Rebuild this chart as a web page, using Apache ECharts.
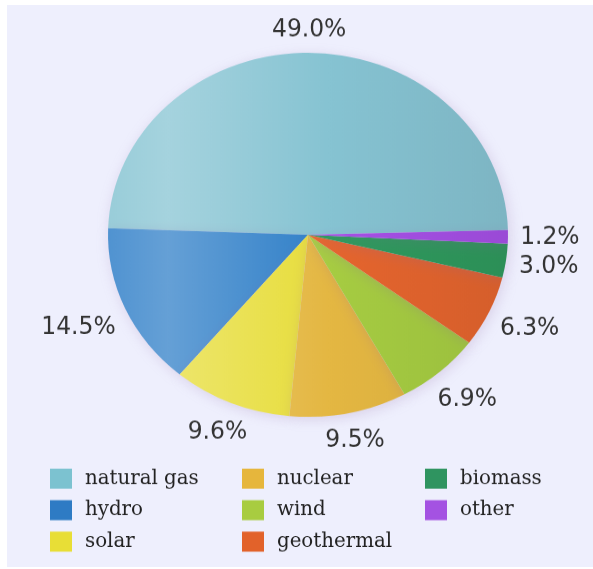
<!DOCTYPE html>
<html><head><meta charset="utf-8">
<script src="https://cdn.jsdelivr.net/npm/echarts@6/dist/echarts.min.js"></script>
<style>
html,body{margin:0;padding:0;background:#fff;width:593px;height:569px;overflow:hidden}
#bg{position:absolute;left:7px;top:5px;width:586px;height:562px;background:#eeeffd}
#c{position:absolute;left:0;top:0;width:593px;height:625px;transform:scaleY(0.91);transform-origin:0 0}
</style></head><body><div id="bg"></div><div id="c"></div>
<script>
const categories = ['natural gas','hydro','solar','nuclear','wind','geothermal','biomass','other'];
const shares = [49.0, 14.5, 9.6, 9.5, 6.9, 6.3, 3.0, 1.2];
const baseColors = ['#86c3d2','#2f7fc8','#e7dd3a','#e4b742','#a6cc42','#e5652e','#2f9a5e','#a650e6'];
const legendColors = ['#7cc2d0','#2e7bc4','#e8de36','#e6b63c','#a8cc40','#e2622a','#2f9460','#a452e2'];
const legendColumns = [['natural gas','hydro','solar'],['nuclear','wind','geothermal'],['biomass','other']];
const legendLefts = [50, 242, 425];

const CX = 308, CY = 258, R = 200, START = 1.5, GAP = 12;

function mix(hex, target, t) {
  const n = parseInt(hex.slice(1), 16);
  const r = (n >> 16) & 255, g = (n >> 8) & 255, b = n & 255;
  const m = v => Math.round(v + (target - v) * t);
  return 'rgb(' + m(r) + ',' + m(g) + ',' + m(b) + ')';
}
function shade(hex) {
  return {
    type: 'linear', x: CX - R, y: 0, x2: CX + R, y2: 0, global: true,
    colorStops: [
      {offset: 0, color: mix(hex, 255, 0.16)},
      {offset: 0.15, color: mix(hex, 255, 0.26)},
      {offset: 0.55, color: hex},
      {offset: 1, color: mix(hex, 0, 0.07)}
    ]
  };
}

const total = shares.reduce((a, b) => a + b, 0);
const cum = [];
shares.reduce((acc, v, i) => { cum[i] = acc; return acc + v; }, 0);

const chart = echarts.init(document.getElementById('c'), null, {renderer: 'canvas', width: 593, height: 625});

const legendCfg = legendColumns.map((col, k) => ({
  orient: 'vertical',
  left: legendLefts[k],
  top: 515,
  padding: 0,
  itemWidth: 22,
  itemHeight: 22,
  itemGap: 12.6,
  icon: 'rect',
  selectedMode: false,
  textStyle: {fontFamily: '"DejaVu Serif Condensed", "DejaVu Serif", serif', fontSize: 22, color: '#222', padding: [3, 0, 0, 8]},
  data: col.map(name => ({name: name, itemStyle: {color: legendColors[categories.indexOf(name)]}}))
}));

chart.setOption({
  animation: false,
  legend: legendCfg,
  series: [{
    type: 'pie',
    center: [CX, CY],
    radius: R,
    startAngle: START,
    clockwise: false,
    avoidLabelOverlap: false,
    label: {
      show: true,
      position: 'outside',
      formatter: p => p.value.toFixed(1) + '%',
      fontFamily: '"DejaVu Sans Condensed", "DejaVu Sans", sans-serif',
      fontSize: 26,
      color: '#333'
    },
    labelLine: {show: false},
    labelLayout: function (p) {
      const i = p.dataIndex;
      const mid = (START + (cum[i] + shares[i] / 2) / total * 360) * Math.PI / 180;
      const c = Math.cos(mid), s = Math.sin(mid);
      const hw = p.labelRect.width / 2, hh = p.labelRect.height / 2;
      const d = R + GAP + hw * Math.abs(c) + hh * Math.abs(s);
      return {x: CX + d * c, y: CY - d * s, align: 'center', verticalAlign: 'middle'};
    },
    itemStyle: {
      shadowBlur: 14,
      shadowColor: 'rgba(140,100,160,0.22)',
      shadowOffsetX: 2,
      shadowOffsetY: 3
    },
    emphasis: {disabled: true},
    data: categories.map((name, i) => ({
      name: name,
      value: shares[i],
      itemStyle: {color: shade(baseColors[i])}
    }))
  }]
});
</script></body></html>
